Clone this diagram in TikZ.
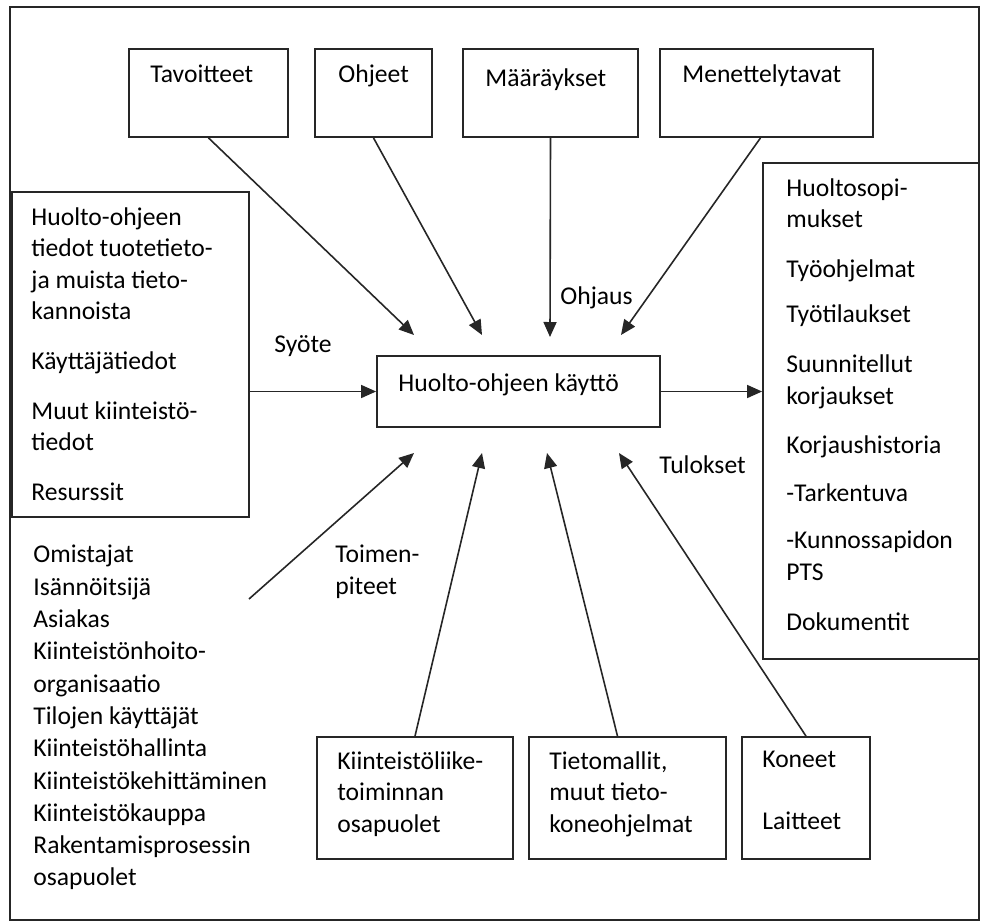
\documentclass[tikz,border=0pt]{standalone}
\usepackage{fontspec}
\setmainfont{Carlito}
\usetikzlibrary{arrows.meta,positioning,fit}

\begin{document}
\begin{tikzpicture}[
    x=0.5pt, y=-0.5pt,
    font=\fontsize{12.8}{15.8}\selectfont,
    box/.style={draw=black!85, rectangle, inner sep=0pt, line width=0.9pt},
    txt/.style={inner sep=0pt, anchor=north west, align=left, yshift=11.06pt,
        execute at begin node=\strut},
    arrow/.style={draw=black!85, line width=0.8pt,
        -{Triangle[length=7.5pt,width=6.5pt]}},
]
\useasboundingbox (0,0) rectangle (981,922);

% Frame
\node[box, fit={(10,7) (979,920)}] (frame) {};

% Control
\node[box, fit={(129,49) (288,137)}] (tav) {};
\node[box, fit={(315,49) (432,137)}] (ohj) {};
\node[box, fit={(463,49) (638,137)}] (maar) {};
\node[box, fit={(660,49) (873,137)}] (men) {};
\node[txt] (tavtxt) at (150,82) {Tavoitteet};
\node[txt] (ohjtxt) at (338,82) {Ohjeet};
\node[txt] (maartxt) at (485,86) {Määräykset};
\node[txt] (mentxt) at (682,82) {Menettelytavat};

% Input
\node[box, fit={(12,192) (249,517)}] (inbox) {};
\node[txt] (intxt) at (31,229) {Huolto-ohjeen\\tiedot tuotetieto-\\ja muista tieto-\\kannoista\\[9pt]Käyttäjätiedot\\[9pt]Muut kiinteistö-\\tiedot\\[9pt]Resurssit};

% Process
\node[box, fit={(377,356) (660,427)}] (hub) {};
\node[txt] (hubtxt) at (398,391) {Huolto-ohjeen käyttö};

% Output
\node[box, fit={(763,163) (979,659)}] (outbox) {};
\node[txt] (outtxt) at (786,200) {Huoltosopi-\\mukset\\[9pt]Työohjelmat\\[7pt]Työtilaukset\\[9pt]Suunnitellut\\korjaukset\\[9pt]Korjaushistoria\\[8pt]-Tarkentuva\\[8pt]-Kunnossapidon\\PTS\\[9pt]Dokumentit};

% Actors
\node[txt, font=\fontsize{12.8}{16.15}\selectfont] (actors) at (33,567) {Omistajat\\Isännöitsijä\\Asiakas\\Kiinteistönhoito-\\organisaatio\\Tilojen käyttäjät\\Kiinteistöhallinta\\Kiinteistökehittäminen\\Kiinteistökauppa\\Rakentamisprosessin\\osapuolet};

% Resources
\node[box, fit={(317,737) (513,859)}] (kiin) {};
\node[box, fit={(529,737) (726,859)}] (tieto) {};
\node[box, fit={(742,737) (870,859)}] (kone) {};
\node[txt] (kiintxt) at (337,773) {Kiinteistöliike-\\toiminnan\\osapuolet};
\node[txt] (tietotxt) at (549,773) {Tietomallit,\\muut tieto-\\koneohjelmat};
\node[txt] (konetxt) at (762,773) {Koneet\\[15pt]Laitteet};

% Labels
\node[txt] (syote) at (274,352) {Syöte};
\node[txt] (ohjaus) at (560,304) {Ohjaus};
\node[txt] (tulokset) at (659,473) {Tulokset};
\node[txt] (toimen) at (335,567) {Toimen-\\piteet};

% Arrow ends
\coordinate (ctav) at (414,335);
\coordinate (cohj) at (482,335);
\coordinate (cmaar) at (550,337);
\coordinate (cmen) at (621,335);
\coordinate (btoim) at (414,453);
\coordinate (bkiin) at (482,453);
\coordinate (btieto) at (547,453);
\coordinate (bkone) at (619,453);
\coordinate (toimstart) at (249,599);

% Arrows
\draw[arrow] (tav.south) -- (ctav);
\draw[arrow] (ohj.south) -- (cohj);
\draw[arrow] (maar.south) -- (cmaar);
\draw[arrow] ([xshift=-3pt]men.south) -- (cmen);
\draw[arrow] (inbox.east |- hub.west) -- (hub.west);
\draw[arrow] (hub.east) -- (outbox.west |- hub.east);
\draw[arrow] (toimstart) -- (btoim);
\draw[arrow] (kiin.north) -- (bkiin);
\draw[arrow] ([xshift=-5pt]tieto.north) -- (btieto);
\draw[arrow] (kone.north) -- (bkone);

\end{tikzpicture}
\end{document}
